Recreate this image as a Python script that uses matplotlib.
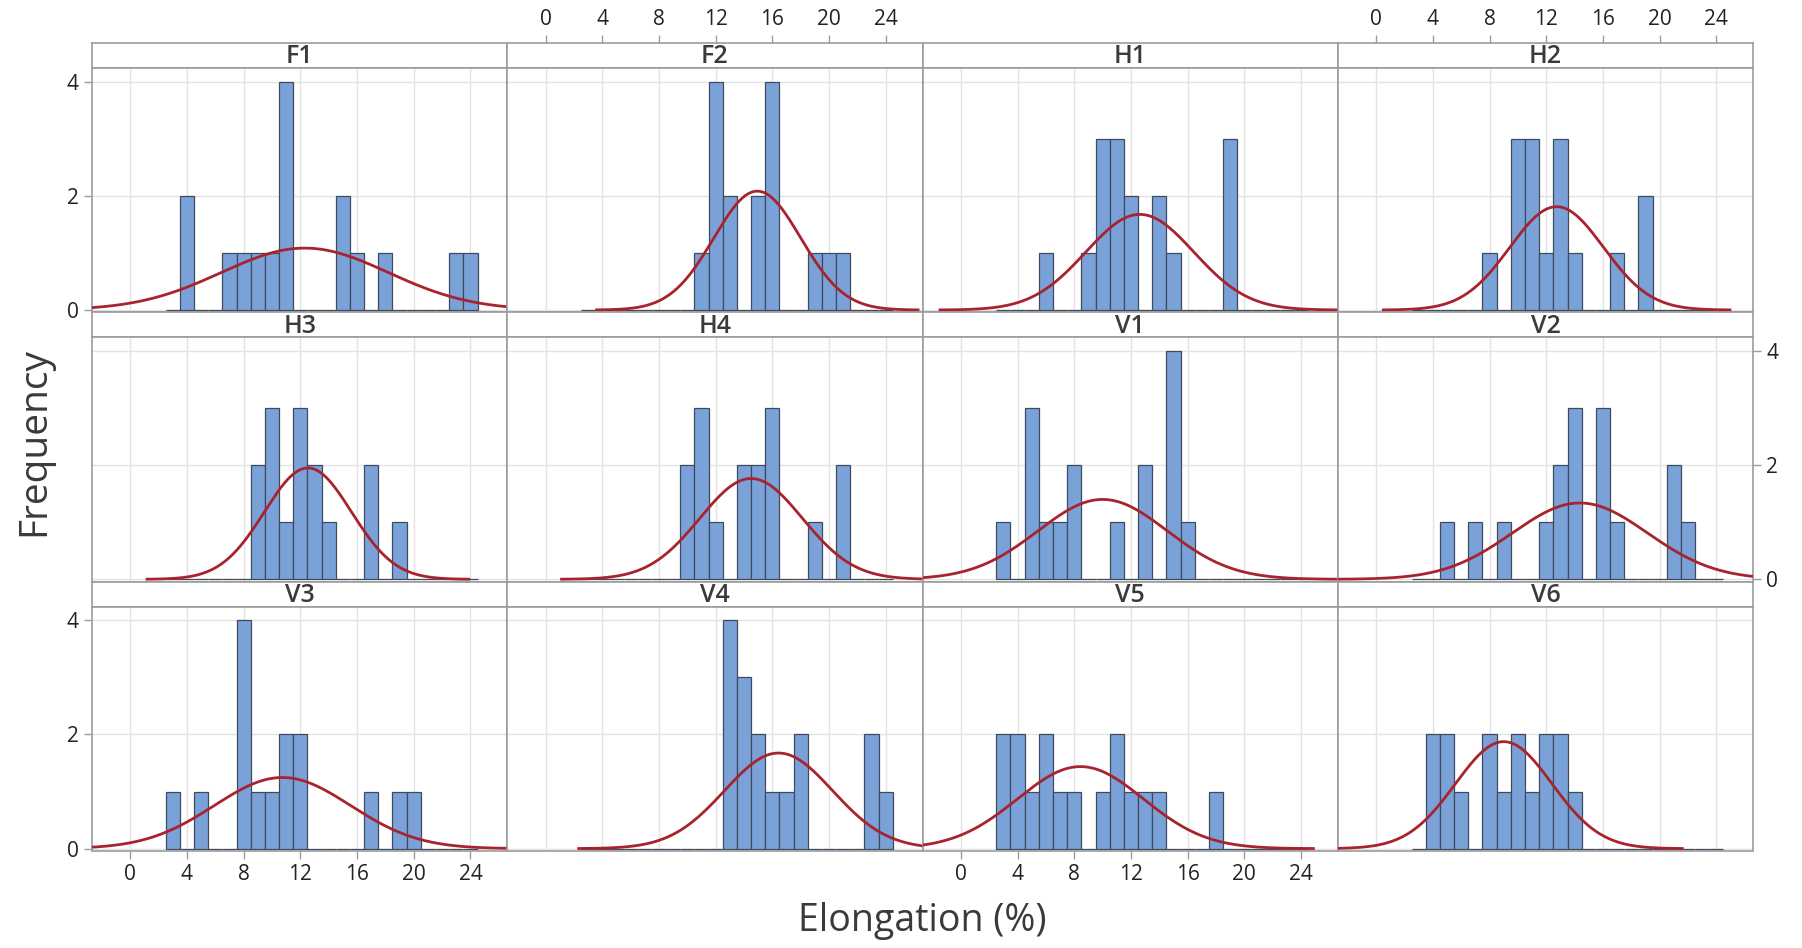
import numpy as np
import matplotlib
matplotlib.use('Agg')
import matplotlib.pyplot as plt

plt.rcParams['font.family'] = ['Open Sans', 'DejaVu Sans']

# Histogram data: counts per 1% bin, bin centres 3..24
bin_centers = np.arange(3, 25)
panel_names = ['F1', 'F2', 'H1', 'H2', 'H3', 'H4', 'V1', 'V2', 'V3', 'V4', 'V5', 'V6']

f1 = [0, 2, 0, 0, 1, 1, 1, 1, 4, 0, 0, 0, 2, 1, 0, 1, 0, 0, 0, 0, 1, 1]
f2 = [0, 0, 0, 0, 0, 0, 0, 0, 1, 4, 2, 0, 2, 4, 0, 0, 1, 1, 1, 0, 0, 0]
h1 = [0, 0, 0, 1, 0, 0, 1, 3, 3, 2, 0, 2, 1, 0, 0, 0, 3, 0, 0, 0, 0, 0]
h2 = [0, 0, 0, 0, 0, 1, 0, 3, 3, 1, 3, 1, 0, 0, 1, 0, 2, 0, 0, 0, 0, 0]
h3 = [0, 0, 0, 0, 0, 0, 2, 3, 1, 3, 2, 1, 0, 0, 2, 0, 1, 0, 0, 0, 0, 0]
h4 = [0, 0, 0, 0, 0, 0, 0, 2, 3, 1, 0, 2, 2, 3, 0, 0, 1, 0, 2, 0, 0, 0]
v1 = [1, 0, 3, 1, 1, 2, 0, 0, 1, 0, 2, 0, 4, 1, 0, 0, 0, 0, 0, 0, 0, 0]
v2 = [0, 0, 1, 0, 1, 0, 1, 0, 0, 1, 2, 3, 0, 3, 1, 0, 0, 0, 2, 1, 0, 0]
v3 = [1, 0, 1, 0, 0, 4, 1, 1, 2, 2, 0, 0, 0, 0, 1, 0, 1, 1, 0, 0, 0, 0]
v4 = [0, 0, 0, 0, 0, 0, 0, 0, 0, 0, 4, 3, 2, 1, 1, 2, 0, 0, 0, 0, 2, 1]
v5 = [2, 2, 1, 2, 1, 1, 0, 1, 2, 1, 1, 1, 0, 0, 0, 1, 0, 0, 0, 0, 0, 0]
v6 = [0, 2, 2, 1, 0, 2, 1, 2, 1, 2, 2, 1, 0, 0, 0, 0, 0, 0, 0, 0, 0, 0]
all_counts = [f1, f2, h1, h2, h3, h4, v1, v2, v3, v4, v5, v6]

x_ticks = [0, 4, 8, 12, 16, 20, 24]
y_ticks = [0, 2, 4]
x_range = (-2.7, 26.6)

bar_color = '#7BA2D8'
edge_color = '#3E4B5E'
curve_color = '#A8232E'
frame_color = '#9C9C9C'
text_color = '#3A3A3A'

W, H = 1802, 948
fig = plt.figure(figsize=(W / 100, H / 100), dpi=100)

# layout in pixels
left0, col_w = 92, 415.3
top0, row_h, strip_h = 43, 269.3, 25


def px_axes(l, t, w, h):
    return fig.add_axes([l / W, 1 - (t + h) / H, w / W, h / H])


tick_kw = dict(direction='out', length=6, width=1, color=frame_color,
               labelsize=15, labelcolor='#222222')

for i, (name, counts) in enumerate(zip(panel_names, all_counts)):
    r, c = divmod(i, 4)
    l = left0 + c * col_w
    t = top0 + r * row_h

    # strip with panel name
    sax = px_axes(l, t, col_w, strip_h)
    sax.set_xlim(*x_range)
    sax.set_yticks([])
    if r == 0 and c in (1, 3):
        sax.set_xticks(x_ticks)
        sax.tick_params(bottom=False, labelbottom=False, top=True, labeltop=True, **tick_kw)
    else:
        sax.set_xticks([])
    for s in sax.spines.values():
        s.set_color(frame_color)
        s.set_linewidth(1.2)
    sax.text(0.5, 0.45, name, ha='center', va='center', fontsize=18,
             fontweight='semibold', color=text_color, transform=sax.transAxes)

    ax = px_axes(l, t + strip_h, col_w, row_h - strip_h)
    counts = np.array(counts)
    ax.bar(bin_centers, counts, width=1.0, color=bar_color,
           edgecolor=edge_color, linewidth=0.9, zorder=2)

    # fitted normal curve
    n = counts.sum()
    mean = (bin_centers * counts).sum() / n
    sd = np.sqrt(((bin_centers - mean) ** 2 * counts).sum() / (n - 1))
    xs = np.linspace(mean - 3.7 * sd, mean + 3.7 * sd, 400)
    ys = n * np.exp(-0.5 * ((xs - mean) / sd) ** 2) / (sd * np.sqrt(2 * np.pi))
    ax.plot(xs, ys, color=curve_color, lw=2.0, zorder=3)

    ax.set_xlim(*x_range)
    ax.set_ylim(-0.04, 4.24)
    ax.set_xticks(x_ticks)
    ax.set_yticks(y_ticks)
    ax.grid(True, color='#E3E3E3', lw=1.0)
    ax.set_axisbelow(True)
    for s in ax.spines.values():
        s.set_color(frame_color)
        s.set_linewidth(1.2)

    ax.tick_params(which='both', left=False, bottom=False,
                   labelleft=False, labelbottom=False, **tick_kw)

    if c == 0 and r in (0, 2):
        ax.tick_params(left=True, labelleft=True)
    if c == 3 and r == 1:
        ax.tick_params(right=True, labelright=True)
    if r == 2 and c in (0, 2):
        ax.tick_params(bottom=True, labelbottom=True)

fig.text(34 / W, 1 - 442 / H, 'Frequency', rotation=90, ha='center', va='center',
         fontsize=28, color=text_color)
fig.text(922 / W, 1 - 921 / H, 'Elongation (%)', ha='center', va='center',
         fontsize=27, color=text_color)

fig.savefig('out.png', dpi=100)
